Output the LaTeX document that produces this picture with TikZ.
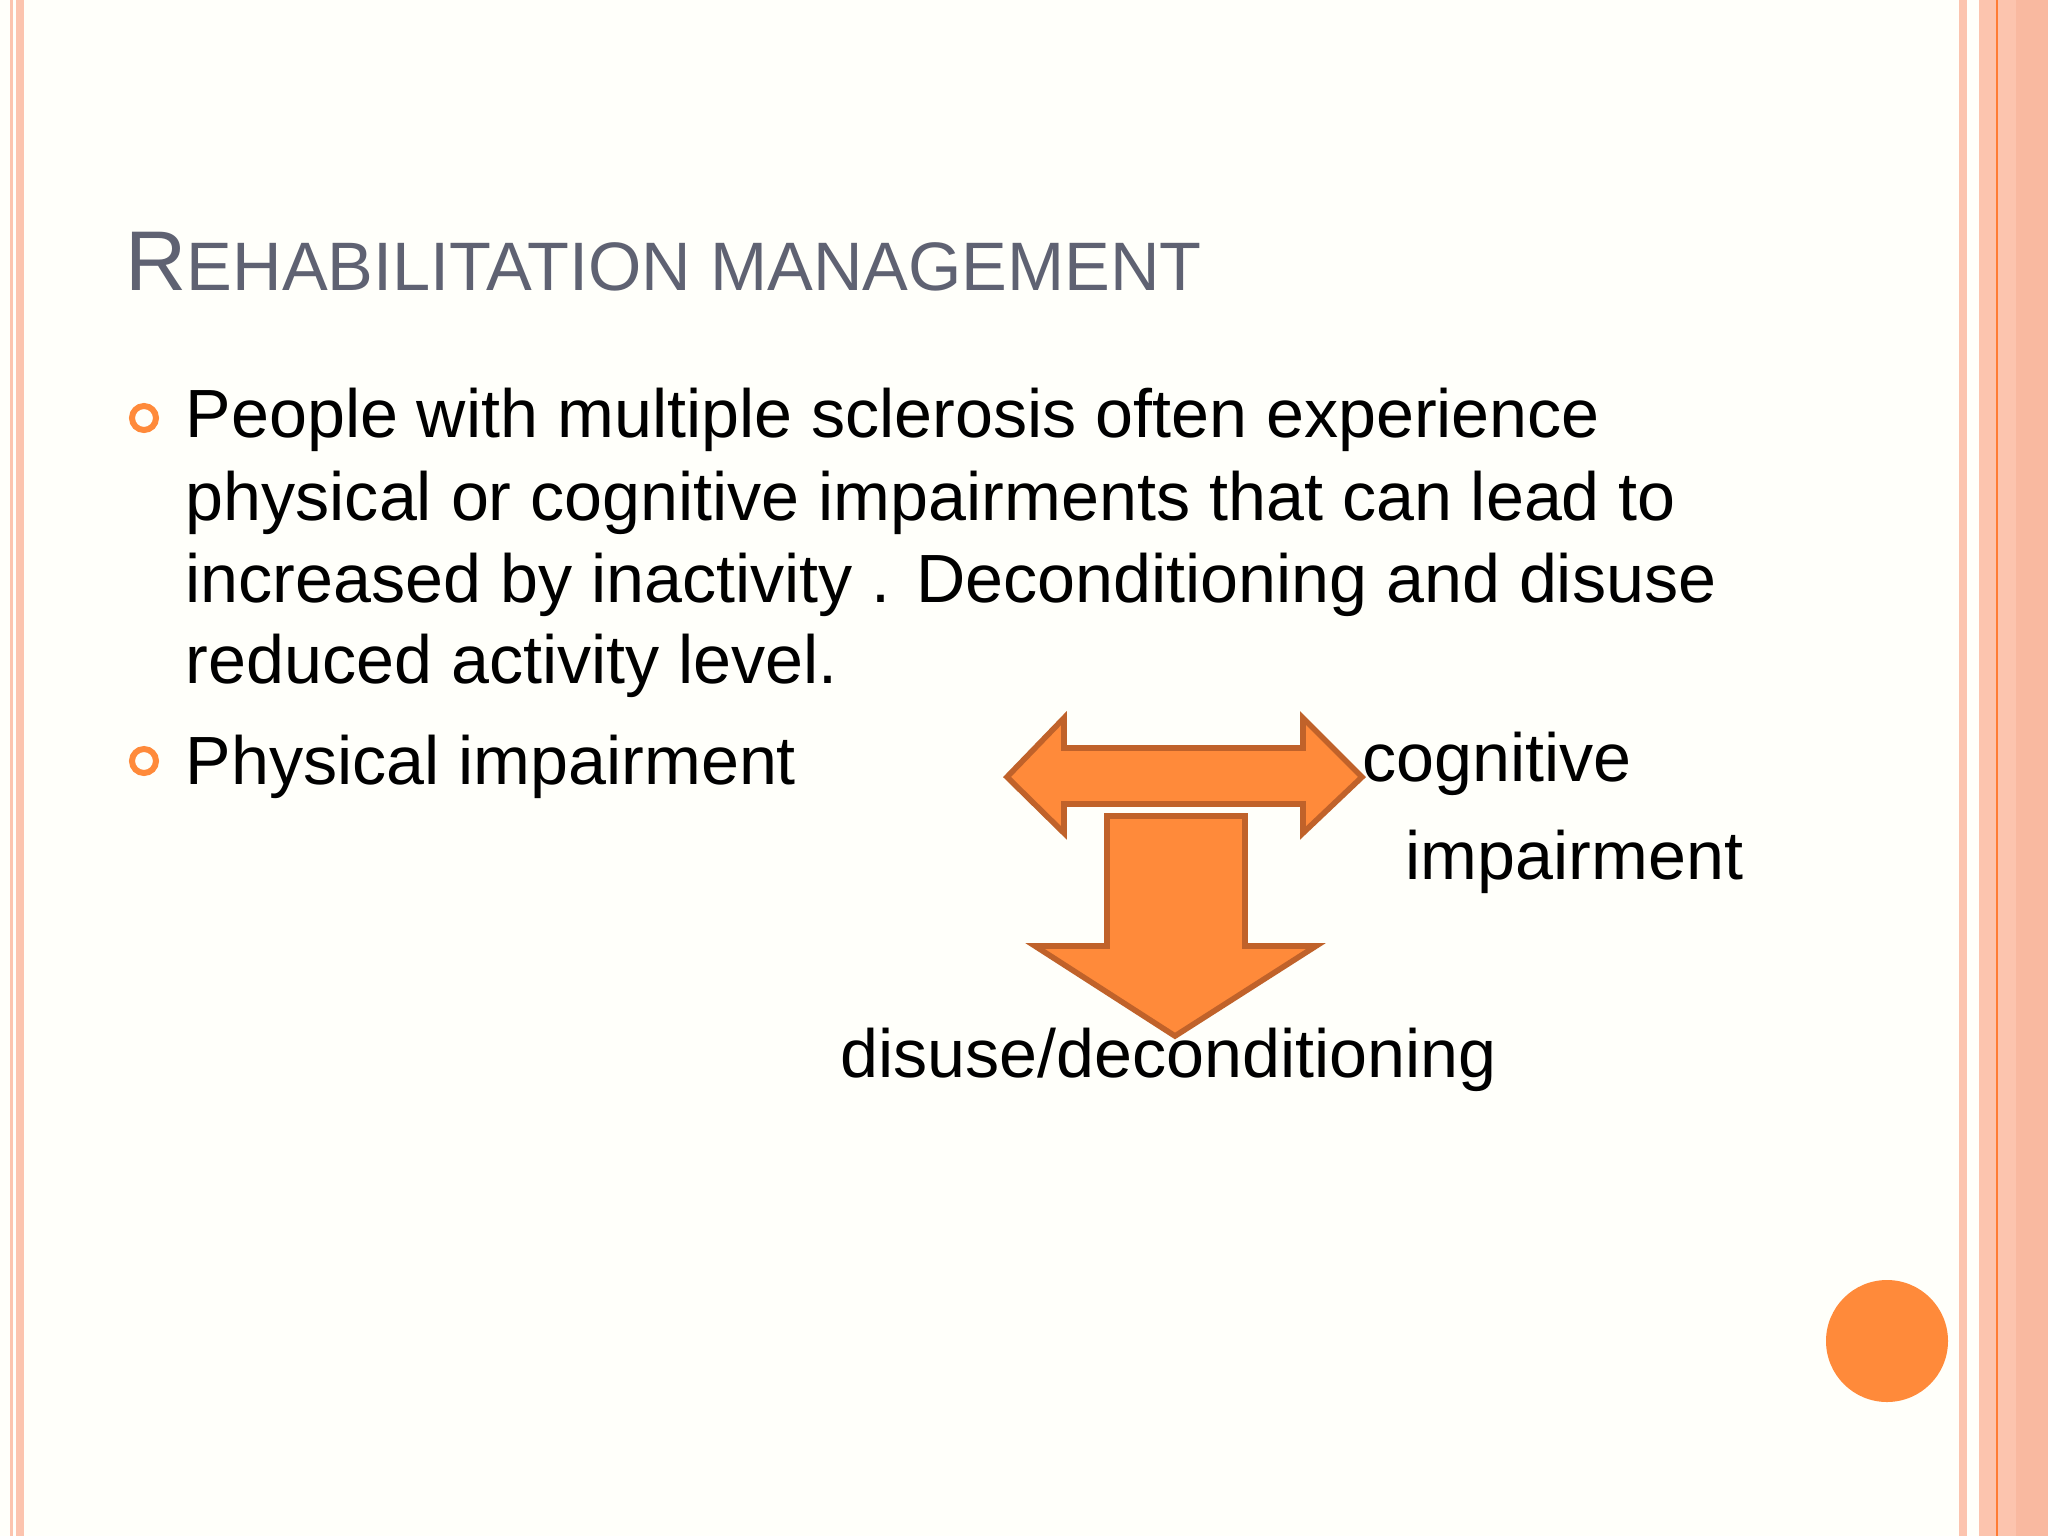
\documentclass[tikz,border=0pt]{standalone}
\usepackage{fontspec}
\setmainfont{Liberation Sans}
\definecolor{bord}{HTML}{FCC4AE}
\definecolor{bordd}{HTML}{F9B9A0}
\definecolor{orng}{HTML}{FF8A3A}
\definecolor{orngd}{HTML}{C0622A}
\definecolor{ttl}{HTML}{5F6272}
\begin{document}
\begin{tikzpicture}[x=0.01cm,y=-0.01cm,
  body/.style={anchor=base west,inner sep=0,font=\fontsize{19.4pt}{23.3pt}\selectfont},
  arr/.style={fill=orng,draw=orngd,line width=1.6pt,line join=miter}]
\useasboundingbox (0,0) rectangle (2048,1536);
\fill[white!97!yellow!60!white] (0,0) rectangle (2048,1536);
\fill[bord] (10,0) rectangle (13,1536);
\fill[bord] (16,0) rectangle (24,1536);
\fill[bord] (1959,0) rectangle (1967,1536);
\fill[bord] (1979,0) rectangle (2048,1536);
\fill[bordd] (2016,0) rectangle (2048,1536);
\fill[orng!90!red] (1995.5,0) rectangle (1997.5,1536);
\node[anchor=base west,inner sep=0,text=ttl] (title) at (125,290)
 {\fontsize{24.1pt}{28pt}\selectfont R\fontsize{19.5pt}{28pt}\selectfont EHABILITATION MANAGEMENT};
\draw[orng,line width=0.6mm] (144,418) circle (12);
\draw[orng,line width=0.6mm] (144,761) circle (12);
\node[body] (l1) at (185,437) {People with multiple sclerosis often experience};
\node[body] (l2) at (185,520) {physical or cognitive impairments that can lead to};
\node[body] (l3) at (185,602) {increased by inactivity . Deconditioning and disuse};
\node[body] (l4) at (185,683) {reduced activity level.};
\node[body] (pi) at (185,784) {Physical impairment};
\node[body] (cog) at (1362,781) {cognitive};
\node[body] (imp) at (1405,879) {impairment};
\node[body] (dis) at (840,1077) {disuse/deconditioning};
\draw[arr] (1007,777) -- (1064,718) -- (1064,748) -- (1303,748) -- (1303,718) -- (1362,777)
  -- (1303,833) -- (1303,804) -- (1064,804) -- (1064,833) -- cycle;
\draw[arr] (1107,816) -- (1245,816) -- (1245,946) -- (1316,946) -- (1175,1036) -- (1035,946) -- (1107,946) -- cycle;
\fill[orng] (1887,1341) circle (61);
\end{tikzpicture}
\end{document}
